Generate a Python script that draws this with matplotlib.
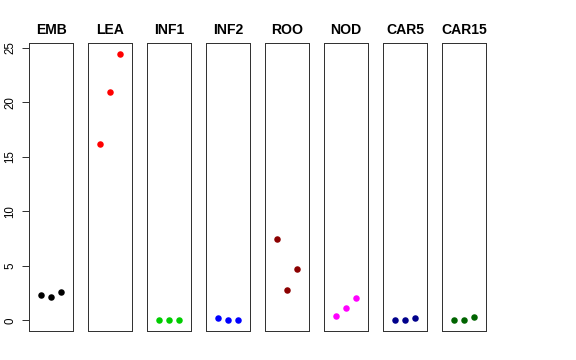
import matplotlib
matplotlib.use("Agg")
import matplotlib.pyplot as plt

plt.rcParams["font.family"] = ["Liberation Sans", "DejaVu Sans"]

tissues = ["EMB", "LEA", "INF1", "INF2", "ROO", "NOD", "CAR5", "CAR15"]
colors = ["black", "red", "#00CD00", "blue", "#8B0000", "magenta", "#00008B", "#006400"]
values = {
    "EMB": [2.33, 2.11, 2.64],
    "LEA": [16.16, 20.9, 24.45],
    "INF1": [0.02, 0.02, 0.02],
    "INF2": [0.17, 0.01, 0.01],
    "ROO": [7.44, 2.75, 4.75],
    "NOD": [0.43, 1.17, 2.08],
    "CAR5": [0.04, 0.0, 0.2],
    "CAR15": [0.06, 0.02, 0.28],
}
reps = [1, 2, 3]
yticks = [0, 5, 10, 15, 20, 25]

W, H = 576, 360
fig = plt.figure(figsize=(8, 5), dpi=72)
ymax = max(max(v) for v in values.values())
ymin = 0.0
pad = (ymax - ymin) * 0.04
for i, (t, c) in enumerate(zip(tissues, colors)):
    left = 29 + 59 * i
    ax = fig.add_axes([left / W, 1 - 331 / H, 44.3 / W, 288 / H])
    ax.plot(reps, values[t], "o", color=c, markersize=6.5, markeredgewidth=0)
    ax.set_xlim(0 - 0.16, 4 + 0.16)
    ax.set_ylim(ymin - pad, ymax + pad)
    ax.set_xticks([])
    for s in ax.spines.values():
        s.set_linewidth(1.0)
        s.set_color("#333333")
    ax.set_title(t, fontsize=14, fontweight="bold", pad=8.5)
    if i == 0:
        ax.set_yticks(yticks)
        ax.set_yticklabels([str(v) for v in yticks], rotation=90, va="center", fontsize=11.5)
        ax.tick_params(axis="y", length=7, pad=6, width=0.8)
    else:
        ax.set_yticks([])

fig.savefig("out.png", dpi=72)
